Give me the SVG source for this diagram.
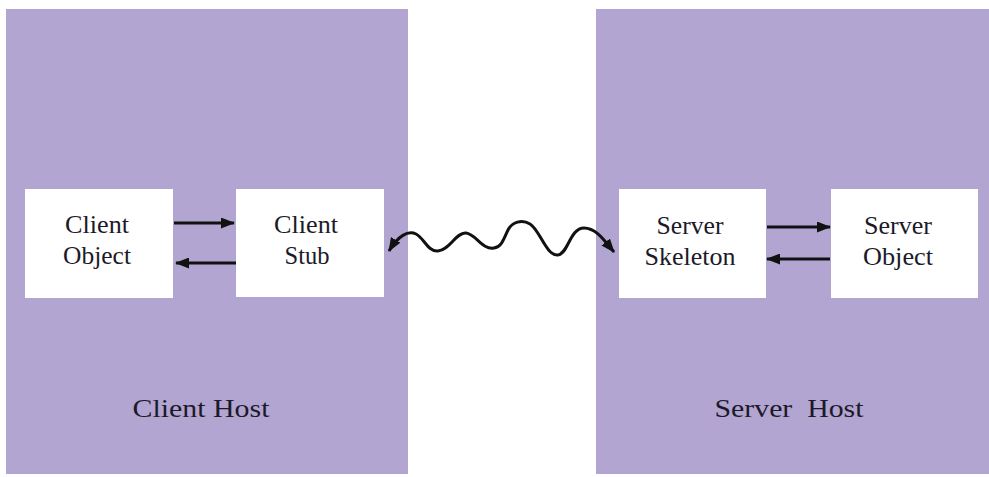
<svg xmlns="http://www.w3.org/2000/svg" width="989" height="477" viewBox="0 0 989 477">
<style>
.host{fill:#b2a5d2}
.box{fill:#ffffff}
.t{font-family:"Liberation Serif","Times New Roman",serif;font-size:26px;fill:#1c1a28;text-anchor:middle}
.ln{stroke:#111;stroke-width:3;fill:none}
</style>
<defs>
<marker id="ah" viewBox="0 0 14 11" refX="13" refY="5.5" markerWidth="14" markerHeight="11" markerUnits="userSpaceOnUse" orient="auto-start-reverse">
<path d="M0,0 L14,5.5 L0,11 Z" fill="#111"/>
</marker>
</defs>
<rect width="989" height="477" fill="#ffffff"/>
<g id="client-host">
<rect class="host" x="6" y="9" width="402" height="465"/>
<text class="t" x="201" y="417" textLength="137" lengthAdjust="spacingAndGlyphs">Client Host</text>
</g>
<g id="server-host">
<rect class="host" x="596" y="9" width="393" height="465"/>
<text class="t" x="789" y="417" textLength="149" lengthAdjust="spacingAndGlyphs" xml:space="preserve">Server  Host</text>
</g>
<g id="client-object">
<rect class="box" x="25" y="189" width="148" height="109"/>
<text class="t" x="97" y="233" textLength="64" lengthAdjust="spacingAndGlyphs">Client</text>
<text class="t" x="97" y="264" textLength="68" lengthAdjust="spacingAndGlyphs">Object</text>
</g>
<g id="client-stub">
<rect class="box" x="236" y="189" width="148" height="108"/>
<text class="t" x="306" y="233" textLength="64" lengthAdjust="spacingAndGlyphs">Client</text>
<text class="t" x="307" y="264" textLength="45" lengthAdjust="spacingAndGlyphs">Stub</text>
</g>
<g id="server-skeleton">
<rect class="box" x="619" y="189" width="147" height="109"/>
<text class="t" x="690" y="234" textLength="67" lengthAdjust="spacingAndGlyphs">Server</text>
<text class="t" x="690" y="265" textLength="91" lengthAdjust="spacingAndGlyphs">Skeleton</text>
</g>
<g id="server-object">
<rect class="box" x="831" y="189" width="147" height="109"/>
<text class="t" x="898" y="234" textLength="68" lengthAdjust="spacingAndGlyphs">Server</text>
<text class="t" x="898" y="265" textLength="70" lengthAdjust="spacingAndGlyphs">Object</text>
</g>
<g id="connectors">
<line class="ln" x1="174" y1="223" x2="234" y2="223" marker-end="url(#ah)"/>
<line class="ln" x1="236" y1="263" x2="176" y2="263" marker-end="url(#ah)"/>
<line class="ln" x1="767" y1="227" x2="830" y2="227" marker-end="url(#ah)"/>
<line class="ln" x1="830" y1="259" x2="767" y2="259" marker-end="url(#ah)"/>
<path class="ln" marker-start="url(#ah)" marker-end="url(#ah)" d="M 389,251 C 398,236 408,230 416,234 C 424,238 428,252 438,251 C 450,250 456,232 466,233 C 476,234 482,250 494,248 C 502,247 504,238 508,230 C 512,222 522,219 530,224 C 540,230 546,256 558,255 C 568,254 570,228 584,228 C 596,228 604,240 614,252"/>
</g>
</svg>
